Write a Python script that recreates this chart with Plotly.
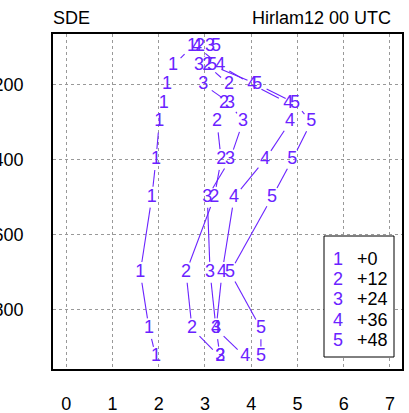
import math
import plotly.graph_objects as go

levels = [100, 150, 200, 250, 300, 400, 500, 700, 850, 925]
s1 = [2.72, 2.31, 2.18, 2.11, 2.01, 1.94, 1.85, 1.60, 1.79, 1.94]
s2 = [2.89, 3.05, 3.52, 3.41, 3.26, 3.35, 3.20, 2.59, 2.72, 3.33]
s3 = [3.11, 2.87, 2.96, 3.54, 3.82, 3.54, 3.05, 3.11, 3.24, 3.33]
s4 = [2.83, 3.33, 4.02, 4.80, 4.84, 4.30, 3.63, 3.37, 3.24, 3.87]
s5 = [3.24, 3.15, 4.13, 4.95, 5.30, 4.89, 4.45, 3.54, 4.21, 4.21]
series = [s1, s2, s3, s4, s5]
symbols = ["1", "2", "3", "4", "5"]
names = ["+0", "+12", "+24", "+36", "+48"]
xticks = [0, 1, 2, 3, 4, 5, 6, 7]
yticks = [200, 400, 600, 800]

W, H = 409, 413
ML, MR, MT, MB = 53, 7, 34, 44
XR = [-0.288, 7.262]
YR = [957, 66]
PW, PH = W - ML - MR, H - MT - MB
sx = PW / (XR[1] - XR[0])
sy = PH / (YR[0] - YR[1])

COLOR = "#6a22ff"
FONT = "Liberation Sans, Arial, sans-serif"
GAP = 10.5

fig = go.Figure()

for vals, sym in zip(series, symbols):
    lx, ly = [], []
    for i in range(len(vals) - 1):
        x0, y0, x1, y1 = vals[i], levels[i], vals[i + 1], levels[i + 1]
        dxp = (x1 - x0) * sx
        dyp = (y1 - y0) * sy
        L = math.hypot(dxp, dyp)
        if L <= 2 * GAP:
            continue
        f = GAP / L
        lx += [x0 + (x1 - x0) * f, x1 - (x1 - x0) * f, None]
        ly += [y0 + (y1 - y0) * f, y1 - (y1 - y0) * f, None]
    fig.add_trace(go.Scatter(x=lx, y=ly, mode="lines",
                             line=dict(color=COLOR, width=1.1),
                             showlegend=False, hoverinfo="skip"))
    fig.add_trace(go.Scatter(x=vals, y=levels, mode="text",
                             text=[sym] * len(vals),
                             textposition="middle center",
                             textfont=dict(color=COLOR, size=18, family=FONT),
                             showlegend=False))

def px2paper_x(px):
    return (px - ML) / PW

def py2paper_y(py):
    return 1 - (py - MT) / PH

# legend box
fig.add_shape(type="rect", xref="paper", yref="paper",
              x0=px2paper_x(324), x1=px2paper_x(394),
              y0=py2paper_y(357), y1=py2paper_y(236),
              line=dict(color="black", width=1), fillcolor="white", layer="above")
for i, (sym, nm) in enumerate(zip(symbols, names)):
    yy = py2paper_y(259 + 20.2 * i)
    fig.add_annotation(x=px2paper_x(338), y=yy, xref="paper", yref="paper",
                       text=sym, showarrow=False, xanchor="center", yanchor="middle",
                       font=dict(color=COLOR, size=18, family=FONT))
    fig.add_annotation(x=px2paper_x(355), y=yy, xref="paper", yref="paper",
                       text=nm, showarrow=False, xanchor="left", yanchor="middle",
                       font=dict(color="black", size=18, family=FONT))

fig.add_annotation(x=0, y=py2paper_y(18), xref="paper", yref="paper",
                   text="SDE", showarrow=False, xanchor="left", yanchor="middle",
                   xshift=-2, font=dict(color="black", size=18, family=FONT))
fig.add_annotation(x=px2paper_x(393), y=py2paper_y(18), xref="paper", yref="paper",
                   text="Hirlam12 00 UTC", showarrow=False, xanchor="right",
                   yanchor="middle", font=dict(color="black", size=18, family=FONT))

fig.update_layout(
    width=W, height=H,
    margin=dict(l=ML, r=MR, t=MT, b=MB, autoexpand=False),
    plot_bgcolor="white", paper_bgcolor="white",
    showlegend=False,
    font=dict(family=FONT, size=18, color="black"),
)
fig.update_xaxes(range=XR, tickvals=xticks, ticktext=[str(v) for v in xticks],
                 showgrid=True, gridcolor="#999999", griddash="dot", gridwidth=1,
                 zeroline=False, showline=True, linecolor="black", linewidth=1.5,
                 mirror=True, ticks="", ticklabelstandoff=18, automargin=False,
                 tickfont=dict(size=18, family=FONT, color="black"))
fig.update_yaxes(range=YR, tickvals=yticks, ticktext=[str(v) for v in yticks],
                 showgrid=True, gridcolor="#999999", griddash="dot", gridwidth=1,
                 zeroline=False, showline=True, linecolor="black", linewidth=1.5,
                 mirror=True, ticks="", ticklabelstandoff=24, automargin=False,
                 tickfont=dict(size=18, family=FONT, color="black"))

fig.write_html("out.html", config={"displayModeBar": False},
               post_script="document.body.style.margin='0';document.body.style.overflow='hidden';")
